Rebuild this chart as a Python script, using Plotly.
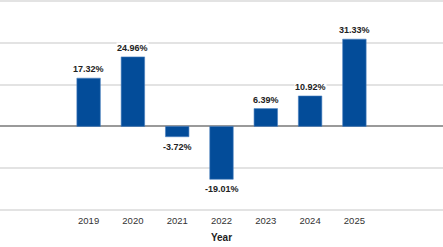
import plotly.graph_objects as go

years = ["2019", "2020", "2021", "2022", "2023", "2024", "2025"]
returns = [17.32, 24.96, -3.72, -19.01, 6.39, 10.92, 31.33]
labels = ["17.32%", "24.96%", "-3.72%", "-19.01%", "6.39%", "10.92%", "31.33%"]
grid_values = [-30, -15, 0, 15, 30, 45]

FONT = "Liberation Sans Narrow, Arial Narrow, Liberation Sans, Arial, sans-serif"

fig = go.Figure(go.Bar(
    x=years, y=returns,
    marker=dict(color="#034C99", line=dict(color="#4a7fc0", width=0.6)),
    width=0.53,
    hoverinfo="skip",
))

for i, (v, t) in enumerate(zip(returns, labels)):
    fig.add_annotation(
        x=i, y=v, xref="x", yref="y", text="<b>%s</b>" % t, showarrow=False,
        yanchor="bottom" if v >= 0 else "top",
        yshift=3 if v >= 0 else -4,
        bgcolor="white", borderpad=0,
        font=dict(family=FONT, size=9, color="#222222"),
    )

# top gridline drawn as a guide line at the highest grid value
fig.add_shape(
    type="line", xref="paper", yref="y", x0=0, x1=1,
    y0=grid_values[-1], y1=grid_values[-1],
    line=dict(color="#e3e3e3", width=1.5), layer="below",
)

fig.update_layout(
    width=443, height=247,
    margin=dict(l=0, r=0, t=0, b=36),
    paper_bgcolor="white", plot_bgcolor="white",
    showlegend=False,
    font=dict(family=FONT, size=9.5, color="#333333"),
    xaxis=dict(
        type="category", range=[-2.0, 8.0],
        showgrid=False, zeroline=False, showline=False,
        ticks="", ticklabelstandoff=2,
        tickfont=dict(family=FONT, size=9.5, color="#333333"),
        title=dict(text="<b>Year</b>", standoff=9,
                   font=dict(family=FONT, size=10, color="#222222")),
    ),
    yaxis=dict(
        range=[-30.4, 45.4], tickmode="array", tickvals=grid_values,
        showticklabels=False, showgrid=True, gridcolor="#e3e3e3", gridwidth=1.5,
        zeroline=True, zerolinecolor="#9a9a9a", zerolinewidth=1.5,
        showline=False,
    ),
)

fig.write_html("out.html")
